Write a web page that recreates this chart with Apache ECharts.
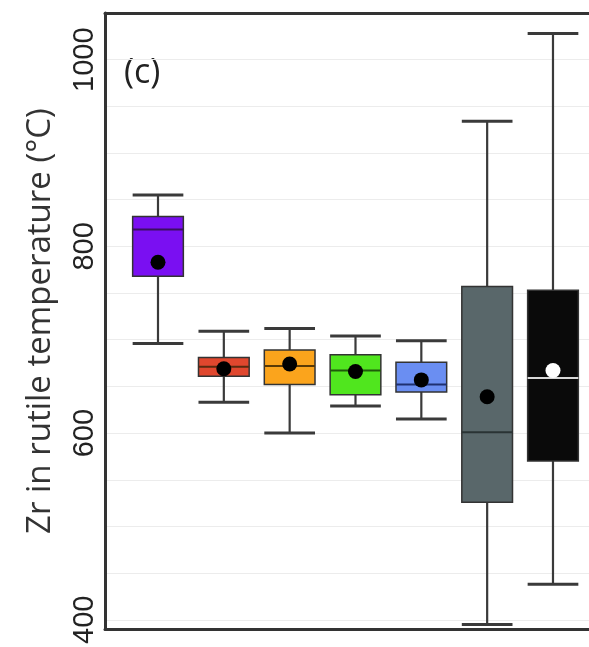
<!DOCTYPE html>
<html>
<head>
<meta charset="utf-8">
<script src="https://cdn.jsdelivr.net/npm/echarts@6/dist/echarts.min.js"></script>
<style>
html,body{margin:0;padding:0;background:#fff;}
#chart{width:589px;height:647px;}
</style>
</head>
<body>
<div id="chart"></div>
<script>
// Groups (positions along x), no category labels shown in the reference
const groupPos = [1, 2, 3, 4, 5, 6, 7];
const lowWhisker  = [696, 633, 600, 629, 615, 395, 438];
const q1          = [768, 661, 652, 641, 644, 526, 570];
const median      = [818, 671, 672, 667, 652, 601, 659];
const q3          = [832, 681, 689, 684, 676, 757, 753];
const highWhisker = [855, 709, 712, 704, 699, 934, 1028];
const means       = [783, 669, 674, 666, 657, 639, 667];
const boxColors   = ['#7a0ff2', '#e0472e', '#fba41c', '#50e61e', '#6a8ef2', '#59676a', '#0a0a0a'];
const meanColors  = ['#000', '#000', '#000', '#000', '#000', '#000', '#fff'];
const medianColors = ['#3a1060', '#5a2a10', '#5a3a05', '#1f5a0a', '#1f3070', '#2a3334', '#d8d8d8'];
const yTickLabels = [400, 600, 800, 1000];
const gridValues  = [400, 450, 500, 550, 600, 650, 700, 750, 800, 850, 900, 950, 1000];
const panelLabel = '(c)';
const yTitle = 'Zr in rutile temperature (°C)';

const boxData = groupPos.map((x, i) => [x, lowWhisker[i], q1[i], median[i], q3[i], highWhisker[i], i]);
const meanData = groupPos.map((x, i) => [x, means[i], i]);

const chart = echarts.init(document.getElementById('chart'), null, {renderer: 'canvas'});
const BOX_W = 0.77;

const option = {
  backgroundColor: '#fff',
  animation: false,
  grid: {left: 105, right: 0, top: 13, bottom: 15},
  xAxis: [
    {type: 'value', min: 0.195, max: 7.547, axisLine: {show: true, onZero: false, lineStyle: {color: '#333', width: 3}},
     axisTick: {show: false}, axisLabel: {show: false}, splitLine: {show: false}},
    {type: 'value', position: 'top', min: 0.195, max: 7.547, axisLine: {show: true, onZero: false, lineStyle: {color: '#333', width: 3}},
     axisTick: {show: false}, axisLabel: {show: false}, splitLine: {show: false}}
  ],
  yAxis: {
    type: 'value', min: 390, max: 1050, interval: 10,
    axisLine: {show: true, onZero: false, lineStyle: {color: '#333', width: 3}},
    axisTick: {show: false}, splitLine: {show: false},
    axisLabel: {
      rotate: 90, margin: 6, fontSize: 29, color: '#222', fontFamily: 'Liberation Sans',
      formatter: v => (yTickLabels.indexOf(v) >= 0 ? String(v) : '')
    },
    name: yTitle, nameLocation: 'middle', nameRotate: 90, nameGap: 48,
    nameTextStyle: {fontSize: 33, color: '#333', fontFamily: 'Open Sans'}
  },
  graphic: [{
    type: 'text', left: 124, top: 56,
    style: {text: panelLabel, fontSize: 34, fontFamily: 'Open Sans', fill: '#222'}
  }],
  series: [
    {
      type: 'scatter',
      data: meanData,
      symbolSize: 0,
      silent: true,
      z: 0,
      markLine: {
        silent: true, symbol: 'none', label: {show: false}, z: 0,
        lineStyle: {color: '#ececec', width: 1, type: 'solid'},
        data: gridValues.map(v => ({yAxis: v}))
      }
    },
    {
      type: 'custom',
      xAxisIndex: 0,
      data: boxData,
      renderItem: function (params, api) {
        const x = api.value(0);
        const i = api.value(6);
        const pLow = api.coord([x, api.value(1)]);
        const pQ1 = api.coord([x, api.value(2)]);
        const pMed = api.coord([x, api.value(3)]);
        const pQ3 = api.coord([x, api.value(4)]);
        const pHigh = api.coord([x, api.value(5)]);
        const left = api.coord([x - BOX_W / 2, 0])[0];
        const right = api.coord([x + BOX_W / 2, 0])[0];
        const lineStyle = {stroke: '#3a3a3a', lineWidth: 2.2};
        return {
          type: 'group',
          children: [
            {type: 'line', shape: {x1: pLow[0], y1: pLow[1], x2: pHigh[0], y2: pHigh[1]}, style: lineStyle},
            {type: 'line', shape: {x1: left, y1: pLow[1], x2: right, y2: pLow[1]}, style: {stroke: '#3a3a3a', lineWidth: 3}},
            {type: 'line', shape: {x1: left, y1: pHigh[1], x2: right, y2: pHigh[1]}, style: {stroke: '#3a3a3a', lineWidth: 3}},
            {type: 'rect', shape: {x: left, y: pQ3[1], width: right - left, height: pQ1[1] - pQ3[1]},
             style: {fill: boxColors[i], stroke: '#333', lineWidth: 1.5}},
            {type: 'line', shape: {x1: left, y1: pMed[1], x2: right, y2: pMed[1]},
             style: {stroke: medianColors[i], lineWidth: 2}}
          ]
        };
      },
      z: 2
    },
    {
      type: 'scatter',
      data: meanData,
      symbol: 'circle',
      symbolSize: 15,
      itemStyle: {color: p => meanColors[p.data[2]], opacity: 1},
      z: 3
    }
  ]
};
chart.setOption(option);
</script>
</body>
</html>
